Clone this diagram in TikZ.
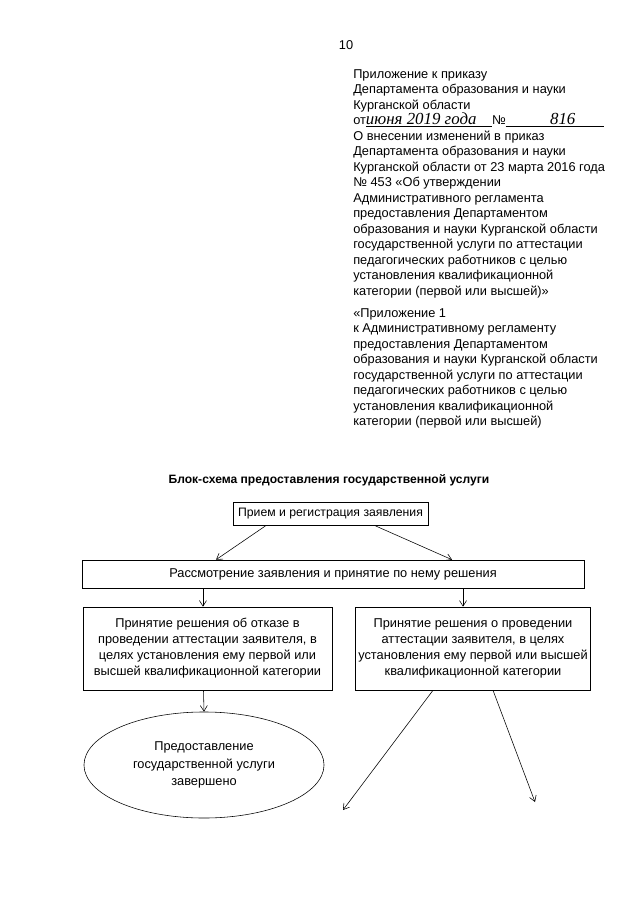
\documentclass[tikz,border=0pt]{standalone}
\usepackage{fontspec}
\setmainfont{Liberation Sans}
\newfontfamily\handfont{Liberation Serif}
\usetikzlibrary{positioning, calc, shapes.geometric, arrows.meta}

\tikzset{
  box/.style={draw, thin, align=center, inner sep=2pt, font=\fontsize{9.1}{11.4}\selectfont},
  hdrtext/.style={anchor=north west, align=left, inner sep=0pt},
}

\begin{document}
\begin{tikzpicture}[x=0.025cm, y=-0.025cm, >={Straight Barb[length=4pt,width=5pt]},
    font=\fontsize{9.1}{11.03}\selectfont]
    \useasboundingbox (0,0) rectangle (640,905);

    % header
    \node (pagenum) at (346,45) {10};
    \node[hdrtext] (order) at (353,69) {Приложение к приказу\\
      Департамента образования и науки\\
      Курганской области\\
      от\underline{\makebox[3.15cm][l]{\handfont\itshape\large июня 2019 года}}№\underline{\makebox[2.45cm]{\handfont\itshape\large\hspace{0.4cm}816}}\\
      О внесении изменений в приказ\\
      Департамента образования и науки\\
      Курганской области от 23 марта 2016 года\\
      № 453 «Об утверждении\\
      Административного регламента\\
      предоставления Департаментом\\
      образования и науки Курганской области\\
      государственной услуги по аттестации\\
      педагогических работников с целью\\
      установления квалификационной\\
      категории (первой или высшей)»};
    \node[hdrtext] (annex) at (353,308) {«Приложение 1\\
      к Административному регламенту\\
      предоставления Департаментом\\
      образования и науки Курганской области\\
      государственной услуги по аттестации\\
      педагогических работников с целью\\
      установления квалификационной\\
      категории (первой или высшей)};

    % flowchart
    \node[font=\fontsize{8.6}{11}\selectfont\bfseries] (title) at (329,480) {Блок-схема предоставления государственной услуги};
    \node[box, font=\fontsize{8.7}{11}\selectfont, minimum width=4.875cm, minimum height=0.58cm] (recv) at (330.5,514) {Прием и регистрация заявления};
    \node[box, minimum width=12.55cm, minimum height=0.7cm] (review) at (333,574) {Рассмотрение заявления и принятие по нему решения};
    \node[box, minimum width=6.225cm, minimum height=2.075cm] (refuse) at (207.5,648.5)
      {Принятие решения об отказе в\\ проведении аттестации заявителя, в\\ целях установления ему первой или\\ высшей квалификационной категории};
    \node[box, minimum width=5.55cm, minimum height=2.075cm] (accept) at (473,648.5)
      {Принятие решения о проведении\\ аттестации заявителя, в целях\\ установления ему первой или высшей\\ квалификационной категории};
    \node[draw, thin, ellipse, align=center, font=\fontsize{9.1}{12.2}\selectfont,
      minimum width=6cm, minimum height=2.65cm] (done) at (204,765)
      {Предоставление\\ государственной услуги\\ завершено};
    \coordinate (leftend) at (343,810);
    \coordinate (rightend) at (535,802);

    \draw[->] ([xshift=-1.625cm]recv.south) -- ([xshift=-2.925cm]review.north);
    \draw[->] ([xshift=1.125cm]recv.south) -- ([xshift=2.975cm]review.north);
    \draw[->] ([xshift=-3.25cm]review.south) -- ([xshift=-3.25cm]review.south |- refuse.north);
    \draw[->] ([xshift=3.25cm]review.south) -- ([xshift=3.25cm]review.south |- accept.north);
    \draw[->] ([xshift=-0.1cm]refuse.south) -- (done.north);
    \draw[->] ([xshift=-1cm]accept.south) -- (leftend);
    \draw[->] ([xshift=0.5cm]accept.south) -- (rightend);
\end{tikzpicture}
\end{document}
